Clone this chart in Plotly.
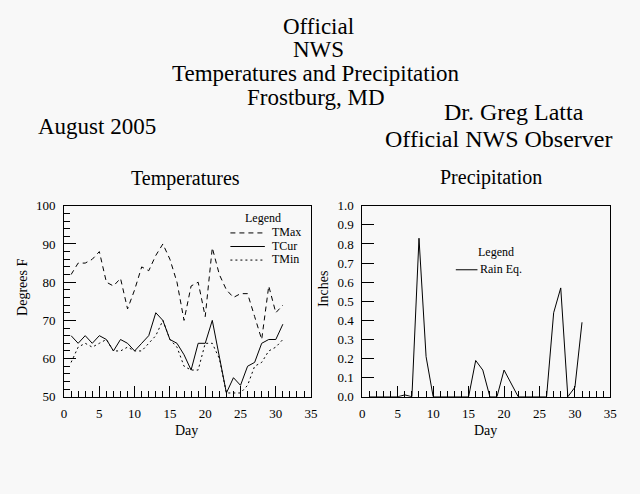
import plotly.graph_objects as go

days = list(range(1, 32))
tmax = [82, 85, 85, 86, 88, 80, 79, 81, 73, 78, 84, 83, 87, 90, 86, 80, 70, 79, 80, 71,
        89, 82, 78, 76, 77, 77, 71, 65, 79, 72, 74]
tcur = [66, 64, 66, 64, 66, 65, 62, 65, 64, 62, 64, 66, 72, 70, 65, 64, 61, 57, 64, 64,
        70, 60, 51, 55, 53, 58, 59, 64, 65, 65, 69]
tmin = [59, 63, 64, 63, 64, 65, 62, 62, 63, 62, 62, 64, 66, 70, 65, 63, 58, 57, 57, 64,
        64, 60, 51, 51, 51, 53, 58, 59, 62, 63, 65]
rain = [0, 0, 0, 0, 0, 0.01, 0, 0.83, 0.21, 0, 0, 0, 0, 0, 0, 0.19, 0.14, 0, 0, 0.14,
        0.07, 0, 0, 0, 0, 0, 0.44, 0.57, 0, 0.05, 0.39]

W, H = 640, 494
BG = "#f8f8f8"
FONT = "Liberation Serif"


def px(x):
    return x / W


def py(y):
    return 1 - y / H


temp_series = [
    ("TMax", tmax, "5px,4px"),
    ("TCur", tcur, "solid"),
    ("TMin", tmin, "2px,3px"),
]

fig = go.Figure()
for name, vals, dash in temp_series:
    fig.add_trace(go.Scatter(x=days, y=vals, name=name, mode="lines",
                             line=dict(color="black", width=1, dash=dash),
                             xaxis="x", yaxis="y", showlegend=False))
fig.add_trace(go.Scatter(x=days, y=rain, name="Rain Eq.", mode="lines",
                         line=dict(color="black", width=1),
                         xaxis="x2", yaxis="y2", showlegend=False))

axis_common = dict(showline=True, linecolor="black", linewidth=1, mirror=True,
                   showgrid=False, zeroline=False, ticks="inside", tickcolor="black",
                   tickfont=dict(family=FONT, size=13, color="black"))

xdom1 = [px(62), px(313)]
xdom2 = [px(365), px(617)]
ydom = [py(402), py(205)]

fig.update_layout(
    width=W, height=H,
    margin=dict(l=0, r=0, t=0, b=0),
    paper_bgcolor=BG, plot_bgcolor=BG,
    font=dict(family=FONT, color="black"),
    showlegend=False,
    xaxis=dict(domain=xdom1, anchor="y", range=[0, 35], dtick=5, ticklen=11,
               minor=dict(dtick=1, ticklen=6, ticks="inside", tickcolor="black"),
               ticklabelstandoff=5, **axis_common),
    yaxis=dict(domain=ydom, anchor="x", range=[50, 100], dtick=10, ticklen=12,
               minor=dict(dtick=2, ticklen=6, ticks="inside", tickcolor="black"),
               ticklabelstandoff=5, **axis_common),
    xaxis2=dict(domain=xdom2, anchor="y2", range=[0, 35], dtick=5, ticklen=11,
                minor=dict(dtick=1, ticklen=6, ticks="inside", tickcolor="black"),
                ticklabelstandoff=5, **axis_common),
    yaxis2=dict(domain=ydom, anchor="x2", range=[0, 1], dtick=0.1, tickformat=".1f",
                ticklen=12, ticklabelstandoff=5, **axis_common),
)

# text: (text, center x px, center y px, size, angle)
texts = [
    ("Official", 321, 20, 23, 0),
    ("NWS", 321, 44, 23, 0),
    ("Temperatures and Precipitation", 318, 69, 23, 0),
    ("Frostburg, MD", 318, 93, 23, 0),
    ("Dr. Greg Latta", 519, 108, 24, 0),
    ("Official NWS Observer", 503, 136, 24, 0),
    ("August 2005", 95, 123, 23, 0),
    ("Temperatures", 185, 177, 20, 0),
    ("Precipitation", 496, 176, 20, 0),
    ("Day", 186, 437, 14, 0),
    ("Day", 490, 437, 14, 0),
    ("Degrees F", 20, 289, 14, -90),
    ("Inches", 325, 290, 14, -90),
    # legends
    ("Legend", 264, 218, 12, 0),
    ("Legend", 501, 253, 12, 0),
]
for t, x, y, s, a in texts:
    fig.add_annotation(text=t, x=px(x), y=py(y), xref="paper", yref="paper",
                       xanchor="center", yanchor="middle", showarrow=False,
                       textangle=a, font=dict(family=FONT, size=s, color="black"))

# legend entries: (label, dash, sample x0, x1, label x, row y)
legend_rows = [
    ("TMax", "5px,4px", 231, 266, 271, 232),
    ("TCur", "solid", 231, 266, 271, 246),
    ("TMin", "2px,3px", 231, 266, 271, 260),
    ("Rain Eq.", "solid", 460, 482, 483, 270),
]
for label, dash, x0, x1, lx, y in legend_rows:
    fig.add_shape(type="line", xref="paper", yref="paper",
                  x0=px(x0), x1=px(x1), y0=py(y + 1), y1=py(y + 1),
                  line=dict(color="black", width=1, dash=dash))
    fig.add_annotation(text=label, x=px(lx), y=py(y), xref="paper", yref="paper",
                       xanchor="left", yanchor="middle", showarrow=False,
                       font=dict(family=FONT, size=12, color="black"))

page_js = (
    "var h=document.documentElement,b=document.body;"
    "h.style.margin='0';h.style.padding='0';h.style.overflow='hidden';"
    "b.style.margin='0';b.style.padding='0';b.style.overflow='hidden';"
    "h.style.background='#f8f8f8';b.style.background='#f8f8f8';"
)
fig.write_html("out.html", config={"displayModeBar": False}, post_script=page_js)
